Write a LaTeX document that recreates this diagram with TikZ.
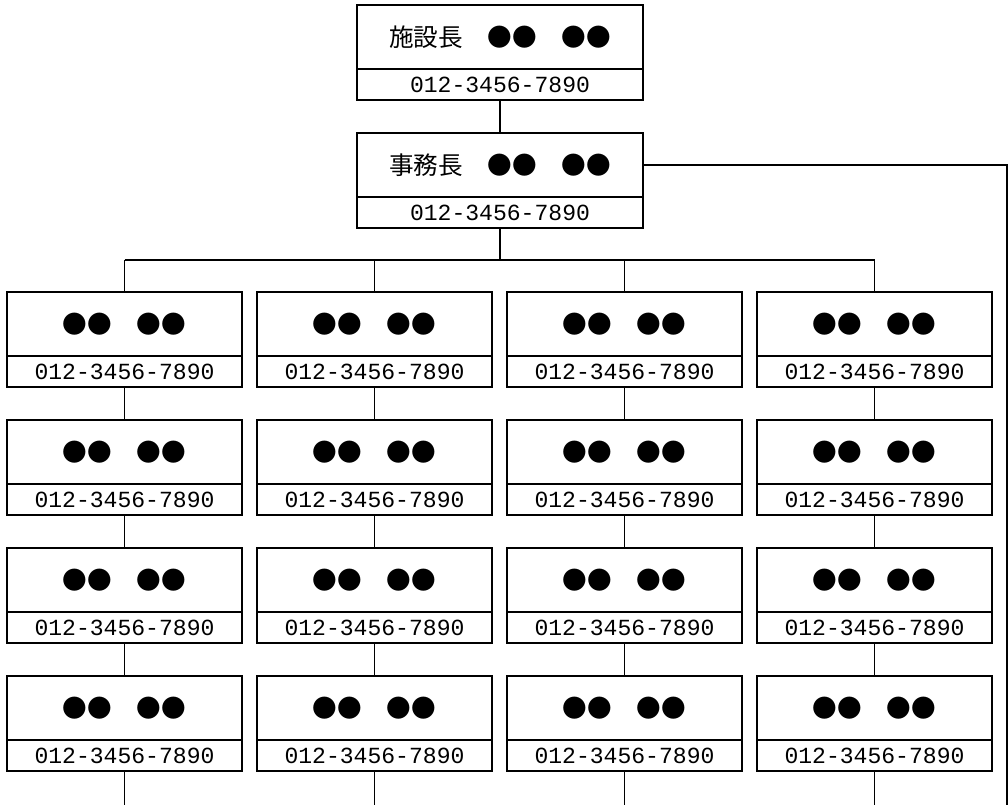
\documentclass[tikz,border=0pt]{standalone}
\usepackage{fontspec}
\setmainfont{Noto Sans CJK JP}
\newfontfamily\namefont{Noto Sans CJK JP}
\newfontfamily\telfont{Liberation Mono}
\usepackage{tikz}
\usetikzlibrary{positioning,calc}

\begin{document}
\begin{tikzpicture}[
    x=0.025cm, y=-0.025cm,
    namebox/.style={
        rectangle, draw, line width=0.9pt,
        outer sep=0pt, inner sep=0pt,
        minimum width=5.875cm,
        minimum height=1.6cm,
        font={\namefont\fontsize{17.5pt}{20pt}\selectfont}
    },
    telbox/.style={
        rectangle, draw, line width=0.9pt,
        outer sep=0pt, inner sep=0pt,
        minimum width=5.875cm,
        minimum height=0.775cm,
        font={\telfont\fontsize{16.4pt}{18pt}\selectfont}
    },
    widebox/.style={minimum width=7.15cm},
    conn/.style={line width=0.9pt},
]

\useasboundingbox (0,0) rectangle (1008,805);

% top of the chart
\node[namebox, widebox] (head) at (500,37) {施設長　●●　●●};
\node[telbox, widebox, below=0pt of head] (headtel) {012-3456-7890};
\node[namebox, widebox, below=0.825cm of headtel] (office) {事務長　●●　●●};
\node[telbox, widebox, below=0pt of office] (officetel) {012-3456-7890};

% staff grid
\foreach \cx in {1,...,4}
  \foreach \ry in {1,...,4} {
    \node[namebox] (m\cx\ry) at ({124.5+250*(\cx-1)},{324+128*(\ry-1)}) {●●　●●};
    \node[telbox, below=0pt of m\cx\ry] (t\cx\ry) {012-3456-7890};
  }

\coordinate (bus) at (500,260);
\coordinate (bottom) at (0,805);
\coordinate (rightend) at (1007,805);

% main flow
\draw[conn] (headtel.south) -- (office.north);
\draw[conn] (officetel.south) -- (officetel.south |- bus);
\draw[conn] (m11.north |- bus) -- (m41.north |- bus);
\foreach \cx in {1,...,4} {
  \draw[conn] (m\cx1.north) -- (m\cx1.north |- bus);
  \foreach \ry/\sy in {1/2,2/3,3/4}
    \draw[conn] (t\cx\ry.south) -- (m\cx\sy.north);
  \draw[conn] (t\cx4.south) -- (t\cx4.south |- bottom);
}

% side line
\draw[conn] (office.east) -| (rightend);

\end{tikzpicture}
\end{document}
